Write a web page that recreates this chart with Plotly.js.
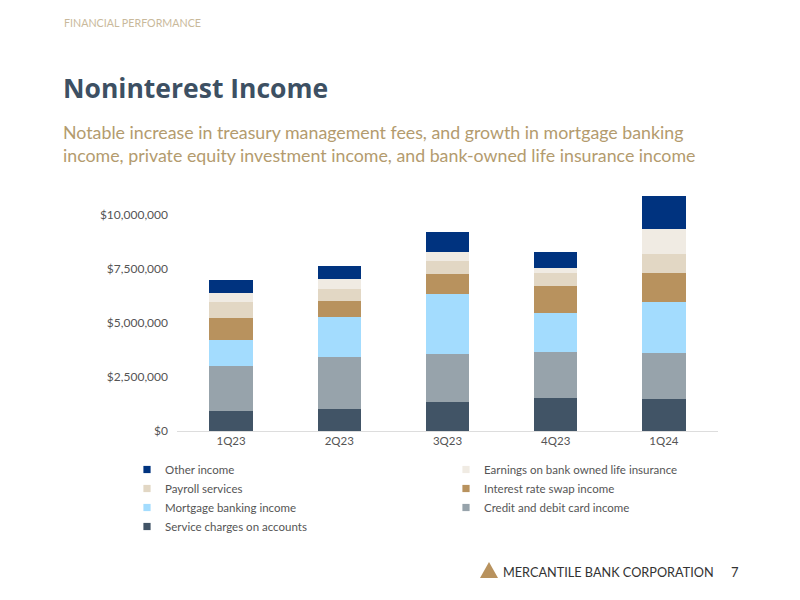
<!DOCTYPE html>
<html>
<head>
<meta charset="utf-8">
<script src="https://cdn.plot.ly/plotly-3.0.1.min.js"></script>
<style>
html,body{margin:0;padding:0;background:#fff;}
#chart{width:800px;height:600px;}
#chart .legendpoints path{transform-box:fill-box;transform-origin:center;scale:0.6;translate:10px 0;}
</style>
</head>
<body>
<div id="chart"></div>
<script>
// Data (values in dollars)
const quarters = ["1Q23", "2Q23", "3Q23", "4Q23", "1Q24"];
const serviceCharges = [930000, 1020000, 1340000, 1510000, 1470000];
const creditDebitCard = [2070000, 2420000, 2220000, 2160000, 2140000];
const mortgageBanking = [1230000, 1850000, 2790000, 1790000, 2350000];
const interestRateSwap = [1020000, 740000, 910000, 1240000, 1360000];
const payrollServices = [730000, 540000, 600000, 620000, 890000];
const bankOwnedLifeIns = [430000, 450000, 430000, 230000, 1140000];
const otherIncome = [590000, 600000, 910000, 730000, 1530000];

const seriesNames = [
  "Service charges on accounts",
  "Credit and debit card income",
  "Mortgage banking income",
  "Interest rate swap income",
  "Payroll services",
  "Earnings on bank owned life insurance",
  "Other income"
];
const seriesValues = [serviceCharges, creditDebitCard, mortgageBanking, interestRateSwap, payrollServices, bankOwnedLifeIns, otherIncome];
const seriesColors = ["#415466", "#97a3ab", "#a3dcfe", "#b8925e", "#e2d7c4", "#f0ebe3", "#00337f"];

const yTicks = [0, 2500000, 5000000, 7500000, 10000000];

const traces = seriesNames.map((name, i) => ({
  type: "bar",
  name: name,
  x: quarters,
  y: seriesValues[i],
  marker: {color: seriesColors[i], line: {width: 0}},
  hoverinfo: "skip"
}));

// pixel -> paper helpers (plot area: x 177..718, y 190..431)
const L = 177, R = 718, T = 190, B = 431;
const px = v => (v - L) / (R - L);
const py = v => (B - v) / (B - T);

const font = "Lato, 'Open Sans', sans-serif";

const layout = {
  width: 800, height: 600,
  margin: {l: L, r: 800 - R, t: T, b: 600 - B, pad: 0, autoexpand: false},
  paper_bgcolor: "#ffffff", plot_bgcolor: "#ffffff",
  barmode: "stack",
  bargap: 0.6,
  showlegend: true,
  legend: {
    orientation: "h",
    traceorder: "reversed",
    entrywidth: 274, entrywidthmode: "pixels",
    x: px(125), xanchor: "left",
    y: py(455), yanchor: "top",
    font: {family: font, size: 11.5, color: "#555555"},
    itemclick: false, itemdoubleclick: false,
    tracegroupgap: 0
  },
  xaxis: {
    type: "category",
    showgrid: false, zeroline: false,
    showline: true, linecolor: "#dddddd", linewidth: 1,
    ticks: "", ticklabelstandoff: -1,
    tickfont: {family: font, size: 11.5, color: "#555555"},
    fixedrange: true
  },
  yaxis: {
    range: [0, (B - T) / 21.6 * 1e6],
    tickvals: yTicks,
    tickformat: "$,.0f",
    showgrid: false, zeroline: false, showline: false,
    ticks: "", ticklabelstandoff: 8,
    tickfont: {family: font, size: 12, color: "#555555"},
    fixedrange: true
  },
  annotations: [
    {text: "FINANCIAL PERFORMANCE", xref: "paper", yref: "paper", x: px(62), y: py(22),
     xanchor: "left", yanchor: "middle", showarrow: false,
     font: {family: font, size: 10.7, color: "#c9b99b"}},
    {text: "<b>Noninterest Income</b>", xref: "paper", yref: "paper", x: px(61), y: py(88),
     xanchor: "left", yanchor: "middle", showarrow: false,
     font: {family: "'Open Sans', sans-serif", size: 26.5, color: "#3d5063"}},
    {text: "Notable increase in treasury management fees, and growth in mortgage banking<br>income, private equity investment income, and bank-owned life insurance income",
     xref: "paper", yref: "paper", x: px(61), y: py(143.5),
     xanchor: "left", yanchor: "middle", align: "left", showarrow: false,
     font: {family: font, size: 17.8, color: "#b39b6e"}},
    {text: "MERCANTILE BANK CORPORATION", xref: "paper", yref: "paper", x: px(501), y: py(572),
     xanchor: "left", yanchor: "middle", showarrow: false,
     font: {family: font, size: 12.7, color: "#333333"}},
    {text: "7", xref: "paper", yref: "paper", x: px(735), y: py(572),
     xanchor: "center", yanchor: "middle", showarrow: false,
     font: {family: font, size: 13, color: "#333333"}}
  ],
  shapes: [
    {type: "path", xref: "paper", yref: "paper",
     path: "M " + px(480) + " " + py(578) + " L " + px(489) + " " + py(562) + " L " + px(498) + " " + py(578) + " Z",
     fillcolor: "#b8925e", line: {width: 0}}
  ]
};

Plotly.newPlot("chart", traces, layout, {displayModeBar: false, staticPlot: true});
</script>
</body>
</html>
